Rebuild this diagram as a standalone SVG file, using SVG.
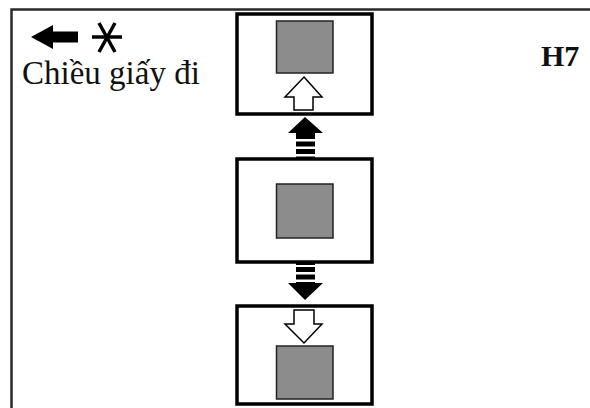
<svg xmlns="http://www.w3.org/2000/svg" width="590" height="408" viewBox="0 0 590 408">
<style>
.frame{fill:none;stroke:#2a2a2a;stroke-width:2.5}
.box{fill:#fff;stroke:#000;stroke-width:3.5}
.paper{fill:#8c8c8c;stroke:#222;stroke-width:1.5}
.hollow{fill:#fff;stroke:#000;stroke-width:1.5;stroke-linejoin:miter}
.solid{fill:#000}
.txt{font-family:"Liberation Serif","Times New Roman",serif;fill:#111}
</style>
<rect width="590" height="408" fill="#fff"/>
<path class="frame" d="M11.5,408 V9.5 H590"/>
<g id="legend">
<path class="solid" d="M31,37 L53,25 V31.5 H78 V42.5 H53 V49 Z"/>
<g stroke="#000" stroke-width="3.5" stroke-linecap="butt">
<line x1="92" y1="37" x2="122" y2="37"/>
<line x1="99" y1="23" x2="115" y2="52"/>
<line x1="115" y1="23" x2="99" y2="52"/>
</g>
<text class="txt" x="22" y="84" font-size="33">Chiều giấy đi</text>
</g>
<g id="label-h7">
<text class="txt" x="541" y="66" font-size="30" font-weight="bold">H7</text>
</g>
<g id="box-top">
<rect class="box" x="237" y="14" width="135" height="100"/>
<rect class="paper" x="276.5" y="21" width="56.5" height="52"/>
<path class="hollow" d="M304,77 L322,97 H313 V110 H294 V97 H285 Z"/>
</g>
<g id="box-middle">
<rect class="box" x="237" y="159" width="135" height="103"/>
<rect class="paper" x="276.5" y="184" width="56.5" height="54"/>
</g>
<g id="box-bottom">
<rect class="box" x="237" y="306" width="135" height="98"/>
<rect class="paper" x="276.5" y="346" width="56.5" height="53"/>
<path class="hollow" d="M294,310 H314 V324 H322 L304,343 L285,324 H294 Z"/>
</g>
<g id="connectors">
<g id="arrow-up">
<path class="solid" d="M305,117 L323,133 H288 Z"/>
<rect class="solid" x="296" y="133" width="19" height="6"/>
<rect class="solid" x="296" y="141.5" width="19" height="5"/>
<rect class="solid" x="296" y="149" width="19" height="5"/>
<rect class="solid" x="296" y="156.5" width="19" height="3"/>
</g>
<g id="arrow-down">
<rect class="solid" x="296" y="262" width="19" height="3"/>
<rect class="solid" x="296" y="267" width="19" height="5"/>
<rect class="solid" x="296" y="274.5" width="19" height="5"/>
<rect class="solid" x="296" y="282" width="19" height="2"/>
<path class="solid" d="M288,283 H323 L305,300 Z"/>
</g>
</g>
</svg>
